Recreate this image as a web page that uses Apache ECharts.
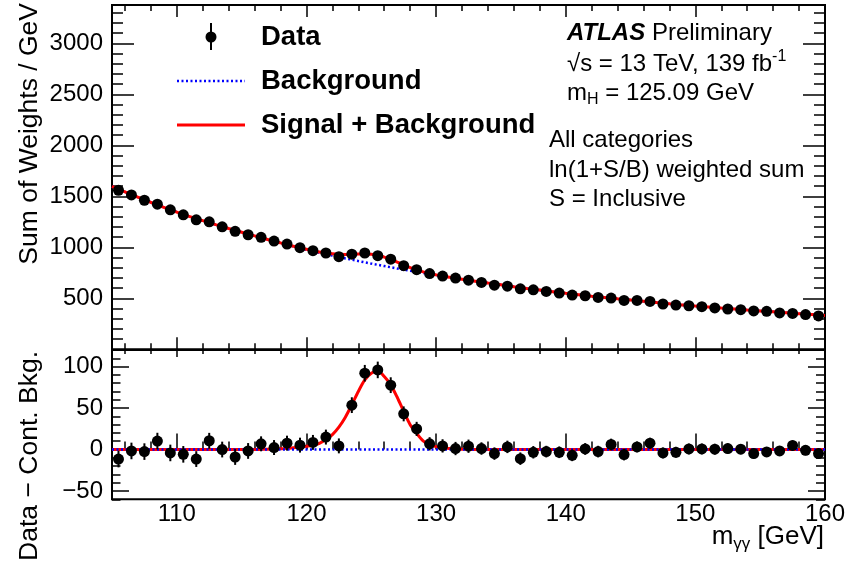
<!DOCTYPE html>
<html>
<head>
<meta charset="utf-8">
<script src="https://cdn.jsdelivr.net/npm/echarts@6/dist/echarts.min.js"></script>
<style>
  html, body { margin: 0; padding: 0; background: #fff; }
  #chart { width: 849px; height: 561px; }
</style>
</head>
<body>
<div id="chart"></div>
<script>
const FONT = 'Liberation Sans, Arial, Helvetica, sans-serif';

// diphoton mass bin centres (1 GeV bins)
const mass = [105.5, 106.5, 107.5, 108.5, 109.5, 110.5, 111.5, 112.5, 113.5, 114.5,
  115.5, 116.5, 117.5, 118.5, 119.5, 120.5, 121.5, 122.5, 123.5, 124.5,
  125.5, 126.5, 127.5, 128.5, 129.5, 130.5, 131.5, 132.5, 133.5, 134.5,
  135.5, 136.5, 137.5, 138.5, 139.5, 140.5, 141.5, 142.5, 143.5, 144.5,
  145.5, 146.5, 147.5, 148.5, 149.5, 150.5, 151.5, 152.5, 153.5, 154.5,
  155.5, 156.5, 157.5, 158.5, 159.5];

// sum of weights per GeV (upper panel)
const sumWeights = [1559, 1513, 1461, 1422, 1367, 1318, 1269, 1250, 1201, 1156,
  1123, 1098, 1061, 1032, 996, 967, 944, 908, 932, 944,
  918, 883, 820, 781, 742, 718, 698, 678, 655, 629,
  619, 593, 583, 567, 551, 532, 525, 508, 502, 479,
  479, 469, 444, 434, 427, 418, 405, 395, 388, 376,
  372, 356, 352, 340, 327];

// data minus continuum background (lower panel)
const residual = [-11.5, -1.7, -2.5, 10.2, -4.1, -5.8, -11.5, 10.6, 0, -9,
  -1.7, 6.9, 2.4, 7.7, 5.3, 8.6, 15, 4.4, 53.5, 92,
  96, 77.6, 43, 24.9, 6.9, 4.4, 1.2, 4, 1.2, -4.9,
  3.2, -11, -3.3, -2.5, -3.3, -7, 0.7, -2.5, 6.1, -6.1,
  3.2, 7.7, -4.1, -3.3, 0.7, 0.7, 0.4, 1.2, 0.4, -4.9,
  -2.9, -1.7, 4.9, -0.9, -4.9];

// statistical uncertainty per bin
const errors = [10, 10, 10, 10, 10, 10, 9.5, 9.5, 9.5, 9.5,
  9.5, 9, 9, 9, 9, 9, 9, 9, 9.5, 10,
  10, 9.5, 9, 8.5, 8, 8, 8, 8, 7.5, 7.5,
  7.5, 7.5, 7.5, 7, 7, 7, 7, 7, 7, 7,
  6.5, 6.5, 6.5, 6.5, 6.5, 6.5, 6.5, 6, 6, 6,
  6, 6, 6, 6, 6];

// continuum background fit
const bkgMass = [105, 106, 107, 108, 109, 110, 111, 112, 113, 114,
  115, 116, 117, 118, 119, 120, 121, 122, 123, 124,
  125, 126, 127, 128, 129, 130, 131, 132, 133, 134,
  135, 136, 137, 138, 139, 140, 141, 142, 143, 144,
  145, 146, 147, 148, 149, 150, 151, 152, 153, 154,
  155, 156, 157, 158, 159, 160];
const bkgFit = [1596, 1543, 1491, 1441, 1392, 1345, 1301, 1261, 1222, 1184,
  1148, 1112, 1076, 1042, 1008, 976, 946, 918, 891, 865,
  840, 816, 792, 770, 748, 726, 706, 686, 668, 650,
  632, 614, 597, 581, 565, 549, 535, 521, 508, 495,
  483, 471, 458, 446, 435, 424, 414, 404, 395, 385,
  376, 367, 358, 349, 340, 331];

// signal component of the fit
const sigMass = [116, 116.5, 117, 117.5, 118, 118.5, 119, 119.5, 120, 120.5,
  121, 121.5, 122, 122.5, 123, 123.5, 124, 124.5, 125, 125.5,
  126, 126.5, 127, 127.5, 128, 128.5, 129, 129.5, 130, 130.5,
  131, 131.5, 132, 132.5, 133, 133.5, 134];
const sigFit = [0.1, 0.2, 0.3, 0.5, 0.9, 1.4, 2.2, 3.0, 4.0, 5.2,
  7.5, 12, 18, 27, 39, 54, 70, 84, 92, 95,
  88, 78, 63, 46, 30, 19.5, 10.5, 6, 3.5, 2,
  1.2, 0.7, 0.4, 0.2, 0.1, 0.05, 0];

// tick labels
const xLabels = [110, 120, 130, 140, 150, 160];
const yTopLabels = [500, 1000, 1500, 2000, 2500, 3000];
const yBotLabels = [-50, 0, 50, 100];

function range(a, b, step) {
  const out = [];
  for (let v = a; v <= b + 1e-9; v += step) out.push(Math.round(v * 100) / 100);
  return out;
}
const xMinor = range(106, 158, 2).filter(v => v % 10 !== 0);
const yTopMinor = range(100, 3300, 100).filter(v => v % 500 !== 0);
const yBotMinor = range(-60, 120, 10).filter(v => v % 50 !== 0);

function sigAt(m) {
  const i = sigMass.indexOf(m);
  return i < 0 ? 0 : sigFit[i];
}

const tickLine = { color: '#000', width: 1.5 };
const labelStyle = { color: '#000', fontSize: 24, fontFamily: FONT };

// x axes always sit at the bottom of their grid ('top' misplaces ticks here)
function xAx(grid, ticks, len, inside, labels) {
  return {
    type: 'value', gridIndex: grid, position: 'bottom', min: 105, max: 160,
    axisLine: { show: false }, splitLine: { show: false },
    axisTick: { show: true, inside: inside, length: len, customValues: ticks, lineStyle: tickLine },
    axisLabel: labels ? Object.assign({
      show: true, customValues: labels, margin: 3, showMaxLabel: true, formatter: v => String(v)
    }, labelStyle) : { show: false }
  };
}
function yAx(grid, pos, min, max, ticks, len, labels) {
  return {
    type: 'value', gridIndex: grid, position: pos, min: min, max: max,
    axisLine: { show: false }, splitLine: { show: false },
    axisTick: { show: true, inside: true, length: len, customValues: ticks, lineStyle: tickLine },
    axisLabel: labels ? Object.assign({
      show: true, customValues: labels, margin: 9,
      formatter: v => (v < 0 ? '\u2212' + Math.abs(v) : String(v))
    }, labelStyle) : { show: false }
  };
}
const hiddenY = g => ({ type: 'value', gridIndex: g, show: false, min: 0, max: 1 });

const errBars = (xi, yi, vals) => ({
  type: 'custom', xAxisIndex: xi, yAxisIndex: yi, z: 5,
  data: mass.map((m, i) => [m, vals[i], errors[i]]),
  renderItem: (params, api) => {
    const p1 = api.coord([api.value(0), api.value(1) - api.value(2)]);
    const p2 = api.coord([api.value(0), api.value(1) + api.value(2)]);
    return { type: 'line', shape: { x1: p1[0], y1: p1[1], x2: p2[0], y2: p2[1] },
      style: { stroke: '#000', lineWidth: 2 } };
  }
});

const dots = (xi, yi, vals) => ({
  type: 'scatter', xAxisIndex: xi, yAxisIndex: yi, z: 6,
  symbol: 'circle', symbolSize: 11,
  itemStyle: { color: '#000', opacity: 1, borderWidth: 0 },
  data: mass.map((m, i) => [m, vals[i]])
});

const rich = {
  n: { fontSize: 24, fontFamily: FONT, color: '#000', lineHeight: 30 },
  b: { fontSize: 24, fontFamily: FONT, color: '#000', lineHeight: 30, fontWeight: 'bold', fontStyle: 'italic' },
  sub: { fontSize: 16, fontFamily: FONT, color: '#000', lineHeight: 12, verticalAlign: 'bottom' },
  sup: { fontSize: 16, fontFamily: FONT, color: '#000', lineHeight: 14, verticalAlign: 'top' },
  t: { fontSize: 26, fontFamily: FONT, color: '#000', lineHeight: 32 },
  ts: { fontSize: 17, fontFamily: FONT, color: '#000', lineHeight: 12, verticalAlign: 'bottom' }
};

function txt(x, y, text) {
  return {
    type: 'text', x: x, y: y, z: 10,
    style: { text: text, rich: rich, align: 'left', verticalAlign: 'middle', fill: '#000', font: '24px ' + FONT, lineHeight: 30 }
  };
}
function legendText(y, text) {
  return { type: 'text', x: 261, y: y, z: 10,
    style: { text: text, fill: '#000', fontSize: 27.5, fontWeight: 'bold', fontFamily: FONT, align: 'left', verticalAlign: 'middle' } };
}

const topBox = { left: 112, right: 24, top: 5, height: 344.3, outerBoundsMode: 'none' };
const botBox = { left: 112, right: 24, top: 350, height: 149.3, outerBoundsMode: 'none' };
const topStrip = { left: 112, right: 24, top: 0, height: 5, show: false, outerBoundsMode: 'none' };
const midStrip = { left: 112, right: 24, top: 340, height: 10, show: false, outerBoundsMode: 'none' };
const frame = { show: true, borderColor: '#000', borderWidth: 2, backgroundColor: 'transparent' };

const option = {
  animation: false,
  backgroundColor: '#fff',
  // 0/1: panels with data and major ticks, 2/3: same boxes for minor ticks,
  // 4-7: thin strips whose bottom edge is a panel's top edge (ticks pointing down)
  grid: [
    Object.assign({}, topBox, frame),
    Object.assign({}, botBox, frame),
    Object.assign({}, topBox, { show: false }),
    Object.assign({}, botBox, { show: false }),
    topStrip, topStrip, midStrip, midStrip
  ],
  xAxis: [
    xAx(0, xLabels, 12, true),
    xAx(1, xLabels, 16, true, xLabels),
    xAx(2, xMinor, 6, true),
    xAx(3, xMinor, 8, true),
    xAx(4, xLabels, 12, false),
    xAx(5, xMinor, 6, false),
    xAx(6, xLabels, 7, false),
    xAx(7, xMinor, 4, false)
  ],
  yAxis: [
    yAx(0, 'left', 0, 3375, yTopLabels, 22, yTopLabels), yAx(0, 'right', 0, 3375, yTopLabels, 22),
    yAx(1, 'left', -60, 120, yBotLabels, 17, yBotLabels), yAx(1, 'right', -60, 120, yBotLabels, 17),
    yAx(2, 'left', 0, 3375, yTopMinor, 11), yAx(2, 'right', 0, 3375, yTopMinor, 11),
    yAx(3, 'left', -60, 120, yBotMinor, 8.5), yAx(3, 'right', -60, 120, yBotMinor, 9),
    hiddenY(4), hiddenY(5), hiddenY(6), hiddenY(7)
  ],
  series: [
    {
      name: 'Background', type: 'line', xAxisIndex: 0, yAxisIndex: 0, z: 3,
      showSymbol: false, symbol: 'none',
      lineStyle: { color: '#0000ff', width: 2.5, type: [2, 2.5] },
      data: bkgMass.map((m, i) => [m, bkgFit[i]])
    },
    {
      name: 'Signal + Background', type: 'line', xAxisIndex: 0, yAxisIndex: 0, z: 4,
      showSymbol: false, symbol: 'none', smooth: 0.4,
      lineStyle: { color: '#ff0000', width: 3 },
      data: bkgMass.map((m, i) => [m, bkgFit[i] + sigAt(m)])
    },
    errBars(0, 0, sumWeights),
    dots(0, 0, sumWeights),
    {
      name: 'Signal', type: 'line', xAxisIndex: 1, yAxisIndex: 2, z: 3,
      showSymbol: false, symbol: 'none', smooth: 0.3,
      lineStyle: { color: '#ff0000', width: 3 },
      data: [[105, 0]].concat(sigMass.map((m, i) => [m, sigFit[i]]), [[160, 0]])
    },
    {
      name: 'Background zero', type: 'line', xAxisIndex: 1, yAxisIndex: 2, z: 4,
      showSymbol: false, symbol: 'none',
      lineStyle: { color: '#0000ff', width: 2.5, type: [2, 2.5] },
      data: [[105, 0], [160, 0]]
    },
    errBars(1, 2, residual),
    dots(1, 2, residual)
  ],
  graphic: [
    // legend
    { type: 'line', z: 10, shape: { x1: 211, y1: 23, x2: 211, y2: 50 }, style: { stroke: '#000', lineWidth: 2 } },
    { type: 'circle', z: 10, shape: { cx: 211, cy: 37, r: 5.5 }, style: { fill: '#000' } },
    legendText(37, 'Data'),
    { type: 'line', z: 10, shape: { x1: 177, y1: 81, x2: 245, y2: 81 }, style: { stroke: '#0000ff', lineWidth: 2.5, lineDash: [2, 2.5] } },
    legendText(81, 'Background'),
    { type: 'line', z: 10, shape: { x1: 177, y1: 125, x2: 245, y2: 125 }, style: { stroke: '#ff0000', lineWidth: 3 } },
    legendText(125, 'Signal + Background'),
    // labels
    txt(567, 33, '{b|ATLAS}{n| Preliminary}'),
    txt(567, 64, '{n|\u221As = 13 TeV, 139 fb}{sup|-1}'),
    txt(567, 93, '{n|m}{sub|H}{n| = 125.09 GeV}'),
    txt(549, 140, '{n|All categories}'),
    txt(549, 170, '{n|ln(1+S/B) weighted sum}'),
    txt(549, 199, '{n|S = Inclusive}'),
    // axis titles
    { type: 'text', x: 30, y: 3, rotation: Math.PI / 2, z: 10,
      style: { text: 'Sum of Weights / GeV', fill: '#000', fontSize: 26.5, fontFamily: FONT, align: 'right', verticalAlign: 'middle' } },
    { type: 'text', x: 30, y: 351, rotation: Math.PI / 2, z: 10,
      style: { text: 'Data \u2212 Cont. Bkg.', fill: '#000', fontSize: 26.5, fontFamily: FONT, align: 'right', verticalAlign: 'middle' } },
    { type: 'text', x: 824, y: 537, z: 10,
      style: { text: '{t|m}{ts|\u03B3\u03B3}{t| [GeV]}', rich: rich, fill: '#000', font: '26px ' + FONT, lineHeight: 32, align: 'right', verticalAlign: 'middle' } }
  ]
};

const chart = echarts.init(document.getElementById('chart'), null, { renderer: 'canvas' });
chart.setOption(option);
</script>
</body>
</html>
